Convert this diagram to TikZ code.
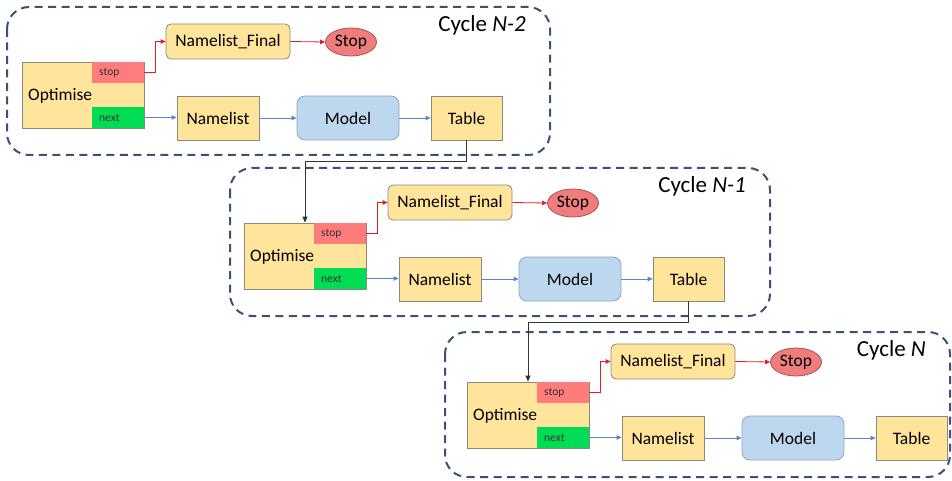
\documentclass[tikz,border=0pt]{standalone}
\usepackage{fontspec}
\setmainfont{Carlito}
\usetikzlibrary{arrows.meta,shapes.geometric,calc}
\definecolor{yfill}{HTML}{FFE49C}
\definecolor{yborder}{HTML}{8A8A7A}
\definecolor{mfill}{HTML}{BDD7EE}
\definecolor{mborder}{HTML}{8EA6C4}
\definecolor{efill}{HTML}{F07D7D}
\definecolor{eborder}{HTML}{B05050}
\definecolor{segred}{HTML}{FF7C7C}
\definecolor{seggreen}{HTML}{00DD55}
\definecolor{dashblue}{HTML}{3D5273}
\definecolor{arrblue}{HTML}{5B86C8}
\definecolor{arrred}{HTML}{E02020}
\definecolor{arrblack}{HTML}{333333}
\tikzset{
  x=1pt, y=-1pt,
  mainfont/.style={font=\fontsize{17.5}{20}\selectfont},
  ybox/.style={draw=yborder, fill=yfill, line width=0.8pt, inner sep=0pt, mainfont},
  mbox/.style={draw=mborder, fill=mfill, line width=0.8pt, inner sep=0pt, rounded corners=8pt, mainfont},
  endnode/.style={ellipse, draw=eborder, fill=efill, line width=0.8pt, inner sep=0pt, mainfont},
  segbox/.style={inner ysep=0pt, inner xsep=7pt, text width=38pt, align=left, minimum height=21.5pt, anchor=#1 east, font=\fontsize{11.5}{12}\selectfont, text=black!80},
  cyclebox/.style={draw=dashblue, line width=2pt, dash pattern=on 8pt off 5.5pt, rounded corners=22pt},
  cyclelabel/.style={anchor=east, inner sep=0pt, font=\fontsize{23}{26}\selectfont},
  bluearrow/.style={draw=arrblue, line width=0.8pt, -{Triangle[length=5pt,width=4.5pt]}},
  redarrow/.style={draw=arrred, line width=0.8pt, -{Triangle[length=5pt,width=4.5pt]}},
  blackarrow/.style={draw=arrblack, line width=0.9pt, -{Triangle[length=6pt,width=5pt]}},
}
\newcommand\DrawCycle[8]{%
  % #1 suffix, #2 dx, #3 dy, #4 label, #5 box right, #6 box top, #7 box left, #8 box bottom
  \begin{scope}[shift={(#2,#3)}]
    \draw[cyclebox] (#7,#6) rectangle (#5,#8);
    \node[cyclelabel] (lab#1) at (#5-24,#6+18) {#4};
    \node[ybox, minimum width=122pt, minimum height=66pt] (opt#1) at (83,95) {};
    \node[segbox=north, fill=segred] (stp#1) at (opt#1.north east) {stop};
    \node[segbox=south, fill=seggreen] (nxt#1) at (opt#1.south east) {next};
    \node[anchor=west, inner sep=0pt, mainfont] (optl#1) at (28,96) {Optimise};
    \node[ybox, rounded corners=5pt, minimum width=124pt, minimum height=35pt] (nf#1) at (228,41.5) {Namelist\_Final};
    \node[endnode, minimum width=51pt, minimum height=28pt] (end#1) at (351,42) {Stop};
    \node[ybox, minimum width=82pt, minimum height=44pt] (nl#1) at (218,118) {Namelist};
    \node[mbox, minimum width=102pt, minimum height=44pt] (mod#1) at (348,118) {\raisebox{-2pt}{Model}};
    \node[ybox, minimum width=71pt, minimum height=44pt] (tab#1) at (466.5,118) {Table};
    \draw[redarrow] (stp#1.east) -- ++(11,0) |- (nf#1.west);
    \draw[redarrow] (nf#1.east) -- (end#1.west);
    \draw[bluearrow] (nxt#1.east) -- (nxt#1.east -| nl#1.west);
    \draw[bluearrow] (nl#1.east) -- (mod#1.west);
    \draw[bluearrow] (mod#1.east) -- (tab#1.west);
  \end{scope}}
\begin{document}
\begin{tikzpicture}
  \useasboundingbox (0,0) rectangle (952,481);
  \DrawCycle{a}{0}{0}{Cycle \textit{N-2}}{550}{7}{7}{155}
  \DrawCycle{b}{222}{161}{Cycle \textit{N-1}}{548}{7}{8}{155}
  \DrawCycle{c}{445}{320}{Cycle \textit{N}}{505}{12}{0}{157}
  \draw[blackarrow] (taba.south) -- ++(0,21) -| (optb.north);
  \draw[blackarrow] (tabb.south) -- ++(0,21) -| (optc.north);
\end{tikzpicture}
\end{document}
